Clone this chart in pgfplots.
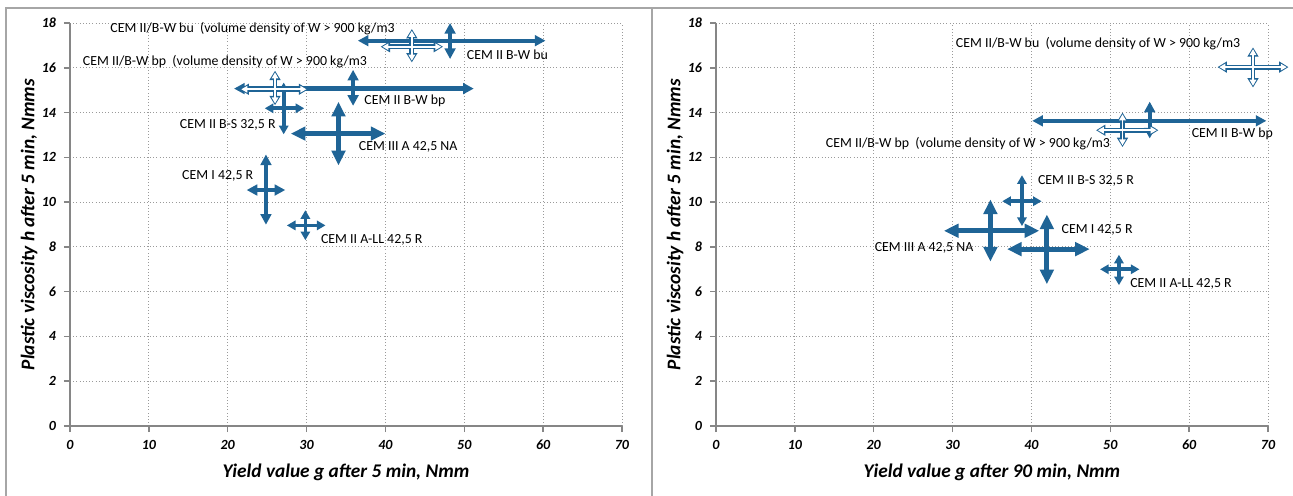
\documentclass[border=0pt]{standalone}
\usepackage{fontspec}
\setmainfont{Carlito}
\usepackage{pgfplots}
\pgfplotsset{compat=1.18}
\usetikzlibrary{arrows.meta}
\definecolor{arrblue}{HTML}{1F6496}
\definecolor{axgray}{HTML}{868686}
\definecolor{gridgray}{HTML}{9A9A9A}
\definecolor{framegray}{HTML}{A6A6A6}

\tikzset{
  big/.style={arrblue, line width=3.6pt, {Triangle[length=11pt,width=10pt]}-{Triangle[length=11pt,width=10pt]}},
  med/.style={arrblue, line width=3.2pt, {Triangle[length=8pt,width=8pt]}-{Triangle[length=8pt,width=8pt]}},
  sml/.style={arrblue, line width=2.8pt, {Triangle[length=6.5pt,width=7pt]}-{Triangle[length=6.5pt,width=7pt]}},
  hb/.style={arrblue, line width=3.6pt, {Triangle[length=7pt,width=8pt]}-{Triangle[length=7pt,width=8pt]}},
  hw/.style={white, line width=1.3pt, shorten <=1.3pt, shorten >=1.3pt, {Triangle[length=4.5pt,width=4.8pt]}-{Triangle[length=4.5pt,width=4.8pt]}},
  lab/.style={font=\fontsize{10.4}{12}\selectfont, anchor=west, inner sep=0pt, text=black},
}

% #1 style, #2 cy, #3 xl, #4 xr, #5 cx, #6 yl, #7 yh
\newcommand{\cross}[7]{%
  \addplot[#1] coordinates {(#3,#2) (#4,#2)};
  \addplot[#1] coordinates {(#5,#6) (#5,#7)};
}
% #1 cy, #2 xl, #3 xr, #4 cx, #5 yl, #6 yh
\newcommand{\hollow}[6]{%
  \addplot[hb] coordinates {(#2,#1) (#3,#1)};
  \addplot[hb] coordinates {(#4,#5) (#4,#6)};
  \addplot[hw] coordinates {(#2,#1) (#3,#1)};
  \addplot[hw] coordinates {(#4,#5) (#4,#6)};
}

\pgfplotsset{
  myaxis/.style={
    scale only axis, width=414pt, height=302.25pt,
    xmin=0, xmax=70, ymin=0, ymax=18,
    xtick={0,10,...,70}, ytick={0,2,...,18},
    axis x line*=bottom, axis y line*=left,
    axis line style={axgray, line width=1.1pt, -},
    tick align=outside, major tick length=4.5pt,
    tick style={axgray, line width=1.1pt},
    grid=major, grid style={gridgray, dotted, line width=0.7pt},
    /pgf/number format/assume math mode=true,
    ticklabel style={font=\bfseries\itshape\fontsize{10.5}{12}\selectfont},
    x tick label style={yshift=-2.5pt},
    y tick label style={xshift=-2.5pt},
    label style={font=\bfseries\itshape\fontsize{14.5}{16}\selectfont},
    x label style={at={(axis description cs:0.5,-0.1158)}, anchor=center},
    y label style={at={(axis description cs:-0.0743,0.5)}, anchor=center},
    ylabel={Plastic viscosity h after 5 min, Nmms},
    clip=false,
  }
}

\begin{document}
\begin{tikzpicture}
\path[use as bounding box] (0,0) rectangle (969.75pt,372pt);
\draw[framegray, line width=1.1pt] (4.5pt,0) -- (4.5pt,366pt) -- (969.75pt,366pt);
\draw[framegray, line width=1.1pt] (489pt,0) -- (489pt,366pt);

% ---------- left panel: after 5 min ----------
\begin{axis}[myaxis, at={(52.5pt,52.5pt)}, anchor=south west,
  xlabel={Yield value g after 5 min, Nmm}]
\cross{med}{17.21}{36.5}{60.3}{48.2}{16.39}{18.0}
\cross{med}{15.07}{20.8}{51.2}{35.9}{14.30}{15.91}
\cross{sml}{14.19}{24.7}{29.7}{27.1}{13.03}{15.34}
\cross{big}{13.06}{28.0}{40.0}{34.05}{11.64}{14.48}
\cross{med}{10.54}{22.4}{27.3}{24.85}{8.99}{12.13}
\cross{sml}{8.96}{27.5}{32.4}{29.85}{8.30}{9.64}
\hollow{16.94}{39.4}{47.3}{43.35}{16.24}{17.73}
\hollow{15.04}{21.5}{30.2}{26.0}{14.33}{15.87}
\node[lab] at (axis cs:5.1,17.76) {CEM II/B-W bu\ \ (volume density of W > 900 kg/m3};
\node[lab] at (axis cs:50.3,16.6) {CEM II B-W bu};
\node[lab] at (axis cs:1.6,16.28) {CEM II/B-W bp\ \ (volume density of W > 900 kg/m3};
\node[lab] at (axis cs:37.3,14.52) {CEM II B-W bp};
\node[lab] at (axis cs:13.9,13.43) {CEM II B-S 32,5 R};
\node[lab] at (axis cs:36.6,12.48) {CEM III A 42,5 NA};
\node[lab] at (axis cs:14.2,11.16) {CEM I 42,5 R};
\node[lab] at (axis cs:31.8,8.3) {CEM II A-LL 42,5 R};
\end{axis}

% ---------- right panel: after 90 min ----------
\begin{axis}[myaxis, at={(537pt,52.5pt)}, anchor=south west,
  xlabel={Yield value g after 90 min, Nmm}]
\cross{med}{13.63}{40.1}{69.8}{55.0}{12.84}{14.49}
\cross{sml}{10.04}{36.3}{41.3}{38.8}{8.93}{11.2}
\cross{big}{8.72}{28.9}{41.0}{34.8}{7.34}{10.12}
\cross{big}{7.9}{36.9}{47.4}{41.96}{6.33}{9.45}
\cross{sml}{7.0}{48.7}{53.7}{51.1}{6.29}{7.65}
\hollow{16.03}{63.6}{72.6}{68.1}{15.12}{16.91}
\hollow{13.21}{48.2}{56.1}{51.55}{12.46}{14.0}
\node[lab] at (axis cs:30.4,17.09) {CEM II/B-W bu\ \ (volume density of W > 900 kg/m3};
\node[lab] at (axis cs:60.3,13.03) {CEM II B-W bp};
\node[lab] at (axis cs:13.9,12.63) {CEM II/B-W bp\ \ (volume density of W > 900 kg/m3};
\node[lab] at (axis cs:40.8,10.94) {CEM II B-S 32,5 R};
\node[lab] at (axis cs:43.8,8.78) {CEM I 42,5 R};
\node[lab] at (axis cs:20.1,7.95) {CEM III A 42,5 NA};
\node[lab] at (axis cs:52.5,6.36) {CEM II A-LL 42,5 R};
\end{axis}
\end{tikzpicture}
\end{document}
